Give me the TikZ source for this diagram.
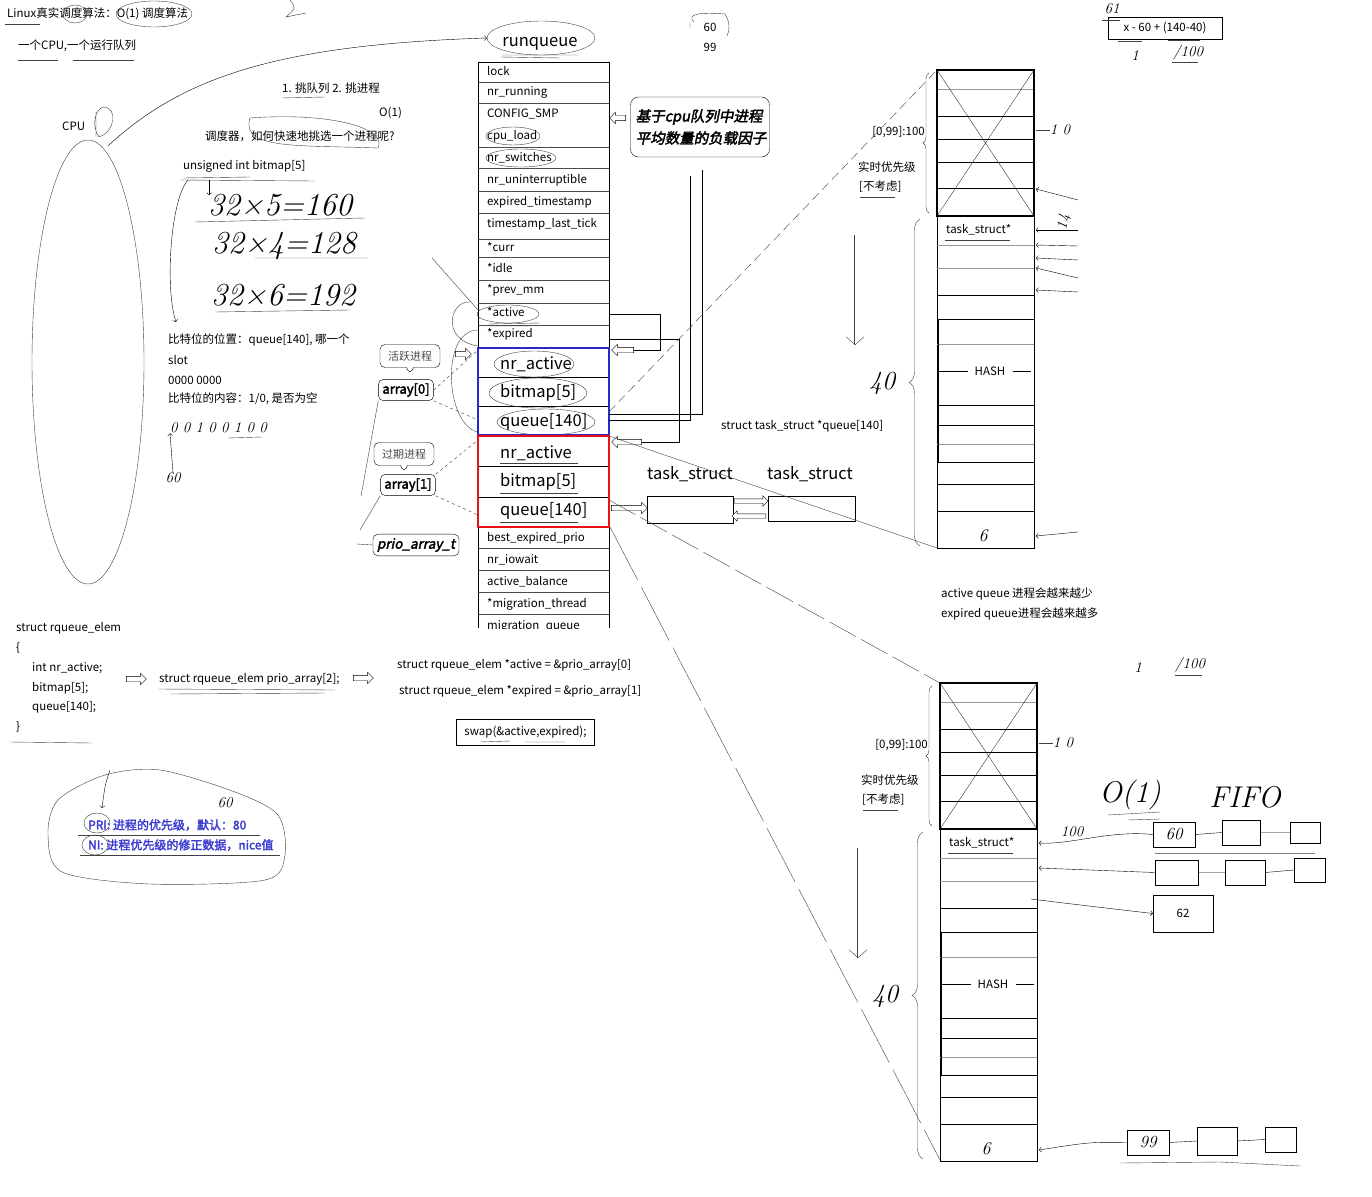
\documentclass[tikz,border=0pt]{standalone}
\usepackage{fontspec}
\setmainfont{Noto Sans CJK SC}
\newfontfamily\boldcjk[FakeBold=2.5]{Noto Sans CJK SC}
\newfontfamily\slantcjk[FakeBold=2.5,FakeSlant=0.2]{Noto Sans CJK SC}
\newfontfamily\handfont{Latin Modern Roman}
\usetikzlibrary{positioning,calc,shapes.geometric,shapes.arrows,shapes.callouts,decorations.pathreplacing,arrows.meta}
\definecolor{boxblue}{RGB}{40,40,200}
\definecolor{boxred}{RGB}{230,20,20}
\definecolor{prilabel}{RGB}{60,60,210}
\tikzset{
  note/.style={anchor=west,inner sep=0pt,font=\fontsize{11.5}{13}\selectfont},
  field/.style={anchor=west,inner sep=0pt,font=\fontsize{11.5}{13}\selectfont},
  bigfield/.style={anchor=west,inner sep=0pt,font=\fontsize{16.5}{19}\selectfont},
  hand/.style={inner sep=0pt,font=\handfont\itshape\fontsize{32}{34}\selectfont},
  handsmall/.style={inner sep=0pt,font=\handfont\itshape\fontsize{15}{17}\selectfont},
  tag/.style={draw,rounded corners=5pt,inner xsep=4pt,inner ysep=4pt,font=\boldcjk\fontsize{13}{15}\selectfont},
  bubble/.style={rectangle callout,draw,rounded corners=5pt,minimum width=60pt,minimum height=23pt,inner sep=2pt,text=black!70,font=\fontsize{11}{13}\selectfont,callout relative pointer={(0pt,-7pt)}},
  hollow/.style={single arrow,draw,fill=white,inner xsep=0pt,inner ysep=2.5pt,minimum height=18pt,single arrow head extend=3pt},
  cell/.style={draw,inner sep=0pt},
  scrib/.style={black!75,thin},
  link/.style={->,thin},
}
\begin{document}
\begin{tikzpicture}[x=1pt,y=-1pt]
\useasboundingbox (0,0) rectangle (1372,1196);
\fill[white] (0,0) rectangle (1372,1196);

% notes on the left
\node[note] (title) at (7,14) {Linux真实调度算法：O(1) 调度算法};
\draw[scrib] (5,24) -- (40,24);
\draw[scrib] (75,14) ellipse (12pt and 9pt);
\draw[scrib] (154,14) ellipse (38pt and 13pt);
\node[note] (cpuq) at (18,46) {一个CPU,一个运行队列};
\draw[scrib] (18,60) -- (58,60) (73,60) -- (134,60);
\draw[scrib] (290,0) .. controls (296,8) .. (286,17) -- (306,13);
\node[note] (pick) at (282,88) {1. 挑队列 2. 挑进程};
\draw[scrib] (282,98) -- (325,97);
\node[note] (o1) at (379,113) {O(1)};
\node[note] (how) at (205,136) {调度器，如何快速地挑选一个进程呢?};
\draw[scrib] (250,118) .. controls (240,150) and (300,145) .. (378,148) .. controls (388,128) and (330,112) .. (250,118);
\node[note] (bm) at (183,166) {unsigned int bitmap[5]};
\draw[scrib] (183,178) -- (250,177) (180,180) -- (315,181);
\coordinate (bmend) at (176,322);
\draw[link] (188,180) .. controls (170,200) and (165,290) .. (bmend);
\draw[link] (209,180) -- (209,195);
\node[hand] (m160) at (280,205) {32×5=160};
\node[hand] (m128) at (284,246) {32×4=128};
\node[hand] (m192) at (283,295) {32×6=192};
\draw[scrib] (195,222) -- (365,218) (255,258) -- (368,258) (215,312) -- (350,310);
\node[note] (pos) at (168,340) {比特位的位置：queue[140], 哪一个};
\node[note] (slot) at (168,360) {slot};
\node[note] (zeros) at (168,380) {0000 0000};
\node[note] (bitc) at (168,399) {比特位的内容：1/0, 是否为空};
\node[handsmall,anchor=west] (bits) at (170,428) {0 0 1 0 0 1 0 0};
\draw[scrib] (228,438) -- (262,437);
\node[handsmall] (sixty) at (173,478) {60};
\draw[link] (sixty.north) -- (bits.south west);

% cpu
\node[note] (cpu) at (62,126) {CPU};
\node[draw,scrib,ellipse,minimum width=112pt,minimum height=444pt] (cpucore) at (88,362) {};
\draw[scrib] (96,112) -- (96,137) (99,137) .. controls (115,132) and (118,108) .. (104,107) .. controls (95,108) and (91,126) .. (99,137);

% runqueue
\node[bigfield,anchor=center] (rq) at (540,44) {runqueue};
\node[draw,scrib,ellipse,minimum width=108pt,minimum height=34pt] (rqring) at (541,38) {};
\draw[scrib] (502,55) -- (578,55) (500,57) -- (560,58);
\draw[link] ($(cpucore.north)+(20,6)$) .. controls (180,80) and (270,45) .. (rqring.west);

\draw (478,628) -- (478,62) -- (609,62) -- (609,628);
\foreach \y in {82,103,147,168,191,213,239,257,280,303,325,347,548,570,592,614}
  \draw[black!70] (478,\y) -- (609,\y);
\foreach \y/\f in {71/lock,92/nr\_running,114/CONFIG\_SMP,136/cpu\_load,158/nr\_switches,180/nr\_uninterruptible,202/expired\_timestamp,224/timestamp\_last\_tick,247/*curr,268/*idle,290/*prev\_mm,312/*active,334/*expired,538/best\_expired\_prio,560/nr\_iowait,582/active\_balance,604/*migration\_thread}
  \node[field] (f\y) at (487,\y) {\f};
\begin{scope}
  \clip (478,614) rectangle (609,628);
  \node[field] (f626) at (487,626) {migration\_queue};
\end{scope}
\draw[scrib] (513,136) ellipse (27pt and 9pt);
\draw[scrib] (521,158) ellipse (35pt and 9pt);
\draw[scrib] (508,314) ellipse (31pt and 9pt);
\draw[scrib] (488,324) -- (540,323) (490,326) -- (530,326);

\foreach \y/\f in {364/nr\_active,393/{bitmap[5]},422/{queue[140]}}
  \node[bigfield] (a\y) at (500,\y) {\f};
\foreach \y/\f in {453/nr\_active,482/{bitmap[5]},511/{queue[140]}}
  \node[bigfield] (b\y) at (500,\y) {\f};
\foreach \y in {377,406,466,497} \draw (478,\y) -- (609,\y);
\foreach \y in {463,493,522} \draw[scrib] (500,\y) -- (578,\y);
\draw[scrib] (534,364) ellipse (40pt and 13pt);
\draw[scrib] (538,393) ellipse (49pt and 15pt);
\draw[scrib] (546,422) ellipse (49pt and 13pt);
\draw[boxblue,line width=2pt] (478,348) rectangle (609,435);
\draw[boxred,line width=2pt] (478,436) rectangle (609,527);

% labels left of the table
\node[bubble] (actv) at (410,356) {活跃进程};
\node[tag] (arr0) at (406,390) {array[0]};
\node[bubble] (expd) at (404,454) {过期进程};
\node[tag] (arr1) at (408,485) {array[1]};
\node[tag,font=\slantcjk\fontsize{13.5}{15}\selectfont] (prio) at (416,545) {prio\_array\_t};
\node[hollow,minimum height=16pt] (harr2) at (462,354) {};
\draw[scrib] (arr0.south west) -- (361,496);
\draw[scrib] (arr1.south west) -- (360,530);
\draw[scrib] (357,544) -- (prio.west);
\draw[scrib,dashed] (arr0.east) -- (478,350);
\draw[scrib,dashed] (arr0.south east) -- (478,420);
\draw[scrib,dashed] (arr1.north east) -- (478,440);
\draw[scrib,dashed] (arr1.south east) -- (478,515);
\draw[scrib] (432,258) -- (478,310);
\draw[scrib] (478,330) .. controls (440,330) and (445,425) .. (478,432);
\draw[scrib] (470,302) .. controls (450,300) and (440,340) .. (478,346);

% load factor note
\node[draw,rounded corners=8pt,minimum width=139pt,minimum height=60pt,inner sep=0pt] (loadbox) at (700,127) {};
\node[font=\slantcjk\fontsize{14.5}{22}\selectfont,align=left] (loadtxt) at (701,127) {基于cpu队列中进程\\平均数量的负载因子};
\node[hollow,shape border rotate=180,minimum height=16pt] (harr1) at (619,118) {};
\node[note,anchor=center] (n60) at (710,27) {60};
\node[note,anchor=center] (n99) at (710,47) {99};
\draw[scrib] (694,22) .. controls (686,14) and (700,12) .. (725,14) .. controls (730,22) and (730,30) .. (727,36) (690,24) -- (690,28);

% pointers to the arrays
\node[hollow,shape border rotate=180,minimum height=22pt] (harr3) at (624,350) {};
\node[hollow,shape border rotate=180,minimum height=30pt] (harr4) at (628,442) {};
\draw (609,314) -| (660,350) -- (harr3.east);
\draw (609,339) -| (679,442) -- (harr4.east);
\draw (609,414) -| (702,170);
\draw (609,420) -| (690,176);

% task_struct list
\node[note,anchor=west] (tsq) at (721,426) {struct task\_struct *queue[140]};
\node[bigfield,anchor=center] (tsa) at (690,474) {task\_struct};
\node[bigfield,anchor=center] (tsb) at (810,474) {task\_struct};
\node[cell,minimum width=86pt,minimum height=27pt] (tsboxa) at (690,509.5) {};
\node[cell,minimum width=87pt,minimum height=25pt] (tsboxb) at (811.5,508.5) {};
\node[hollow,minimum height=36pt] (harr5) at (628,508) {};
\node[hollow,inner ysep=2pt,minimum height=34pt] (harr6) at (750,501) {};
\node[hollow,inner ysep=2pt,shape border rotate=180,minimum height=34pt] (harr7) at (750,516) {};

% diagonal guides
\draw[scrib,dash pattern=on 9pt off 5pt] (609,412) -- (937,70);
\draw[scrib] (609,436) -- (937,548);
\draw[scrib,dash pattern=on 30pt off 6pt] (609,500) -- (940,683);
\draw[scrib,dash pattern=on 60pt off 8pt] (610,527) -- (940,1160);

% priority columns
\foreach \dx/\dy/\k in {0/0/a,3/613/b}{
\begin{scope}[shift={(\dx,\dy)}]
  \draw (937,70) rectangle (1034,548);
  \foreach \y in {89,245,268,344,444} \draw[black!40] (937,\y) -- (1034,\y);
  \foreach \y in {116,139,162,188,295,319,405,425,462,484,511} \draw (937,\y) -- (1034,\y);
  \draw[black!80] (937,70) -- (1034,216) (1034,70) -- (937,216);
  \draw[line width=2.5pt] (937,70) rectangle (1034,216);
  \draw[line width=1pt] (938,319) -- (938,462);
  \node[note] (ts\k) at (946,230) {task\_struct*};
  \draw[scrib] (945,240) -- (1010,240);
  \node[note,anchor=center,inner xsep=7pt,fill=white] (hash\k) at (990,371) {HASH};
  \draw (939,371) -- (hash\k.west) (hash\k.east) -- (1031,371);
  \node[note,anchor=east] (range\k) at (925,132) {[0,99]:100};
  \node[note] (rt\k) at (858,167) {实时优先级};
  \node[note] (skip\k) at (859,187) {[不考虑]};
  \draw[scrib] (860,197) -- (895,197);
  \draw[decorate,decoration={brace,amplitude=6pt},scrib] (929,213) -- (929,73);
  \draw[decorate,decoration={brace,amplitude=11pt},scrib] (920,546) -- (920,219);
  \node[hand,font=\handfont\itshape\fontsize{26}{28}\selectfont] (forty\k) at (882,383) {40};
  \node[handsmall,font=\handfont\itshape\fontsize{18}{20}\selectfont] (six\k) at (983,536) {6};
  \node[handsmall] (ten\k) at (1060,130) {1 0};
  \draw[scrib] (1036,130) -- (1050,130);
  \draw[scrib,double,-{Straight Barb[length=8pt,width=18pt]}] (855,235) -- (855,345);
\end{scope}
}

% pointers into the upper column
\foreach \ya/\yb in {200/189,230/230,246/245,260/258,278/268,292/290,532/536}
  \draw[link] (1078,\ya) -- (1036,\yb);
\node[handsmall,rotate=80] (fourteen) at (1064,222) {14};

% expression top right
\node[draw,inner sep=0pt,minimum width=114pt,minimum height=22pt] (xbox) at (1165,28) {};
\node[note,anchor=center] (xexp) at (1165,28) {x - 60 + (140-40)};
\node[handsmall] (sixone) at (1112,9) {61};
\draw[scrib] (1102,20) -- (1120,20) (1118,41) -- (1142,41) (1168,40) -- (1200,40);
\node[handsmall] (onea) at (1135,56) {1};
\node[handsmall] (hunda) at (1188,53) {/100};
\draw[scrib] (1172,62) -- (1198,62);

% active/expired remark
\node[note] (fewer) at (941,594) {active queue 进程会越来越少};
\node[note] (more) at (941,614) {expired queue进程会越来越多};
\node[handsmall] (oneb) at (1138,668) {1};
\node[handsmall] (hundb) at (1190,665) {/100};
\draw[scrib] (1175,675) -- (1202,675);

% FIFO lists at the lower column
\node[hand,font=\handfont\itshape\fontsize{30}{32}\selectfont] (ofifo) at (1130,795) {O(1)};
\node[hand,font=\handfont\itshape\fontsize{30}{32}\selectfont] (fifo) at (1245,797) {FIFO};
\draw[scrib] (1108,815) -- (1160,812) (1128,820) -- (1160,819);
\node[cell,minimum width=42pt,minimum height=25pt,font=\handfont\itshape\fontsize{17}{19}\selectfont] (fa1) at (1174,834.5) {60};
\node[cell,minimum width=38pt,minimum height=25pt] (fa2) at (1241,832.5) {};
\node[cell,minimum width=30pt,minimum height=21pt] (fa3) at (1305,832.5) {};
\draw (fa1.east) -- (fa2.west) (fa2.east) -- (fa3.west);
\node[cell,minimum width=43pt,minimum height=25pt] (fb1) at (1176.5,872.5) {};
\node[cell,minimum width=40pt,minimum height=25pt] (fb2) at (1245,872.5) {};
\node[cell,minimum width=31pt,minimum height=24pt] (fb3) at (1309.5,870) {};
\draw (fb1.east) -- (fb2.west) (fb2.east) -- (fb3.west);
\draw[black!50] (1155,853) -- (1315,853);
\node[cell,minimum width=60pt,minimum height=37pt,font=\fontsize{11.5}{13}\selectfont] (f62) at (1183,913.5) {62};
\node[cell,minimum width=42pt,minimum height=25pt,font=\handfont\itshape\fontsize{17}{19}\selectfont] (fc1) at (1148,1142.5) {99};
\node[cell,minimum width=40pt,minimum height=28pt] (fc2) at (1217,1141) {};
\node[cell,minimum width=31pt,minimum height=25pt] (fc3) at (1280.5,1139.5) {};
\draw (fc1.east) -- (fc2.west) (fc2.east) -- (fc3.west);
\draw[scrib] (1120,1163) -- (1220,1162) -- (1300,1166);
\coordinate (slot60) at (1039,843);
\coordinate (slot61) at (1039,868);
\coordinate (slot62) at (1031,899);
\coordinate (slot99) at (1039,1150);
\draw[link] (fa1.west) .. controls (1110,830) and (1070,845) .. (slot60);
\draw[link] (fb1.west) -- (slot61);
\draw[link] (slot62) .. controls (1080,905) .. (f62.west);
\draw[link] (fc1.west) .. controls (1090,1142) .. (slot99);
\node[handsmall] (hundc) at (1072,832) {100};

% struct code
\node[note] (s1) at (16,628) {struct rqueue\_elem};
\node[note] (s2) at (16,648) {\{};
\node[note] (s3) at (32,668) {int nr\_active;};
\node[note] (s4) at (32,688) {bitmap[5];};
\node[note] (s5) at (32,707) {queue[140];};
\node[note] (s6) at (16,727) {\}};
\draw[scrib] (10,742) -- (92,743);
\node[hollow,minimum height=20pt] (harr8) at (135,679) {};
\node[note] (s7) at (159,679) {struct rqueue\_elem prio\_array[2];};
\draw[scrib] (159,689) -- (335,690) (170,694) -- (325,693);
\node[hollow,minimum height=20pt] (harr9) at (362,678) {};
\node[note] (s8) at (397,665) {struct rqueue\_elem *active = \&prio\_array[0]};
\node[note] (s9) at (399,691) {struct rqueue\_elem *expired = \&prio\_array[1]};
\node[draw,note,anchor=center,inner xsep=8pt,inner ysep=7pt] (swapbox) at (525.5,732) {swap(\&active,expired);};
\draw[scrib] (480,742) -- (510,741) (525,742) -- (565,742);

% PRI / NI
\node[note,anchor=west,text=prilabel,font=\boldcjk\fontsize{12}{14}\selectfont] (pri) at (88,825) {PRI: 进程的优先级，默认：80};
\node[note,anchor=west,text=prilabel,font=\boldcjk\fontsize{12}{14}\selectfont] (ni) at (88,845) {NI: 进程优先级的修正数据，nice值};
\draw[scrib] (78,835) -- (260,835) (80,855) -- (280,855);
\draw[scrib] (97,823) ellipse (13pt and 10pt);
\draw[scrib] (95,845) ellipse (13pt and 10pt);
\draw[scrib] plot[smooth cycle] coordinates {(58,800) (105,775) (160,770) (235,792) (278,815) (285,855) (265,880) (150,884) (62,872) (48,835)};
\draw[link] (110,770) .. controls (105,785) .. (102,808);
\node[handsmall] (sixtyc) at (225,803) {60};
\end{tikzpicture}
\end{document}
